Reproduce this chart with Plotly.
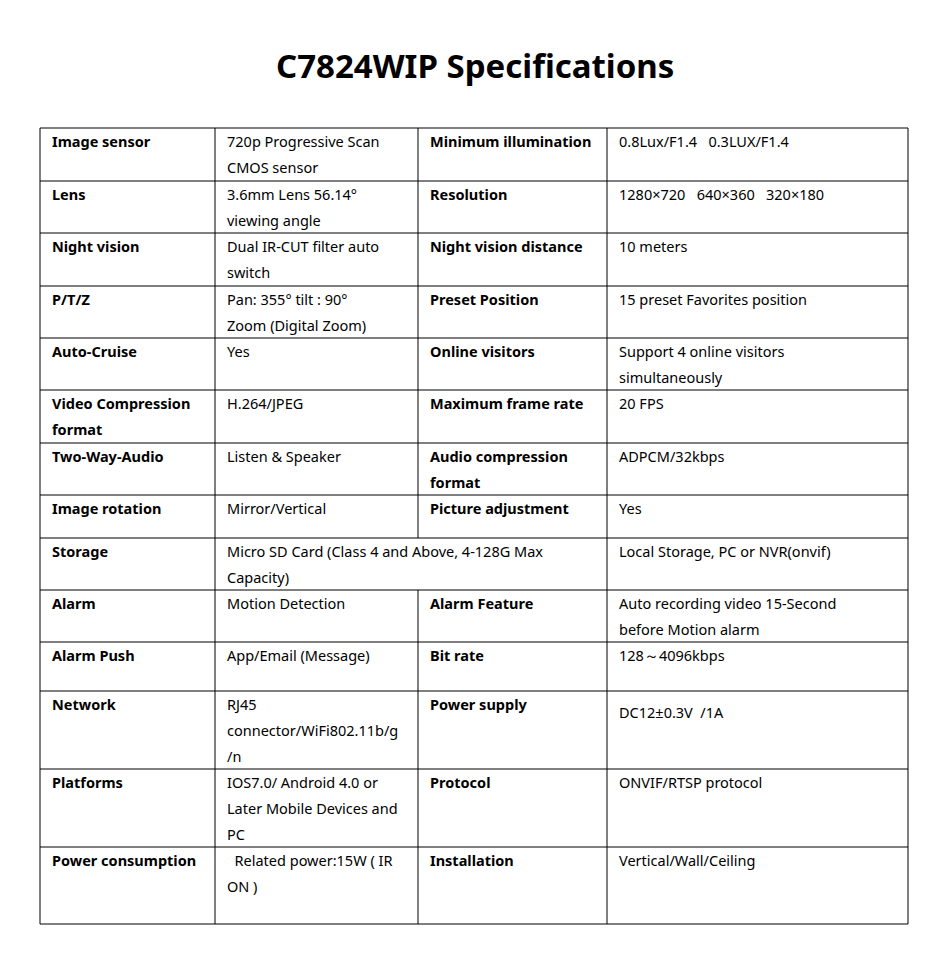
import plotly.graph_objects as go

title = "C7824WIP Specifications"
labels = ["Image sensor", "Lens", "Night vision", "P/T/Z", "Auto-Cruise",
          "Video Compression<br>format", "Two-Way-Audio", "Image rotation", "Storage",
          "Alarm", "Alarm Push", "Network", "Platforms", "Power consumption"]
values = ["720p Progressive Scan<br>CMOS sensor", "3.6mm Lens 56.14°<br>viewing angle",
          "Dual IR-CUT filter auto<br>switch", "Pan: 355° tilt : 90°<br>Zoom (Digital Zoom)", "Yes",
          "H.264/JPEG", "Listen & Speaker", "Mirror/Vertical",
          "Micro SD Card (Class 4 and Above, 4-128G Max<br>Capacity)",
          "Motion Detection", "App/Email (Message)", "RJ45<br>connector/WiFi802.11b/g<br>/n",
          "IOS7.0/ Android 4.0 or<br>Later Mobile Devices and<br>PC",
          "  Related power:15W ( IR<br>ON )"]
labels2 = ["Minimum illumination", "Resolution", "Night vision distance", "Preset Position",
           "Online visitors", "Maximum frame rate", "Audio compression<br>format",
           "Picture adjustment", None, "Alarm Feature", "Bit rate", "Power supply",
           "Protocol", "Installation"]
values2 = ["0.8Lux/F1.4   0.3LUX/F1.4", "1280×720   640×360   320×180", "10 meters",
           "15 preset Favorites position", "Support 4 online visitors<br>simultaneously",
           "20 FPS", "ADPCM/32kbps", "Yes", "Local Storage, PC or NVR(onvif)",
           "Auto recording video 15-Second<br>before Motion alarm", "128～4096kbps",
           "DC12±0.3V  /1A", "ONVIF/RTSP protocol", "Vertical/Wall/Ceiling"]

# layout geometry (pixels)
col_x = [40, 215, 418, 607, 908]
row_y = [128, 181, 233, 286, 338, 390, 443, 495, 538, 590, 642, 691, 769, 847, 924]
value2_shift = {11: 8}
FONT = "Noto Sans, Open Sans, sans-serif"
LINE = 26
OFF = 8  # page body margin

fig = go.Figure()
shapes = [dict(type="rect", x0=col_x[0], x1=col_x[-1], y0=row_y[0], y1=row_y[-1],
               line=dict(color="black", width=1), xref="x", yref="y")]
for y in row_y[1:-1]:
    shapes.append(dict(type="line", x0=col_x[0], x1=col_x[-1], y0=y, y1=y,
                       line=dict(color="black", width=1), xref="x", yref="y"))
anns = []

def add_text(txt, x, top, bold):
    for i, line in enumerate(txt.split("<br>")):
        if not line:
            continue
        anns.append(dict(x=x, y=top + 13 + LINE * i, xref="x", yref="y", text=f"<b>{line}</b>" if bold else line,
                         showarrow=False, xanchor="left", yanchor="middle",
                         font=dict(family=FONT, size=14.5, color="black")))

for r in range(len(labels)):
    top, bot = row_y[r], row_y[r + 1]
    merged = labels2[r] is None
    for ci, cx in enumerate(col_x[1:-1], start=1):
        if merged and ci == 2:
            continue
        shapes.append(dict(type="line", x0=cx, x1=cx, y0=top, y1=bot,
                           line=dict(color="black", width=1), xref="x", yref="y"))
    add_text(labels[r], col_x[0] + 10, top, True)
    add_text(values[r], col_x[1] + 10, top, False)
    if not merged:
        add_text(labels2[r], col_x[2] + 10, top, True)
    add_text(values2[r], col_x[3] + 10, top + value2_shift.get(r, 0), False)

anns.append(dict(x=475, y=65, xref="x", yref="y", text=f"<b>{title}</b>", showarrow=False,
                 xanchor="center", yanchor="middle", font=dict(family=FONT, size=33, color="black")))

fig.update_layout(width=950, height=958, margin=dict(l=0, r=0, t=0, b=0),
                  paper_bgcolor="white", plot_bgcolor="white",
                  xaxis=dict(range=[OFF, 950 + OFF], visible=False, fixedrange=True),
                  yaxis=dict(range=[958 + OFF, OFF], visible=False, fixedrange=True),
                  shapes=shapes, annotations=anns, showlegend=False)
fig.write_html("out.html")
